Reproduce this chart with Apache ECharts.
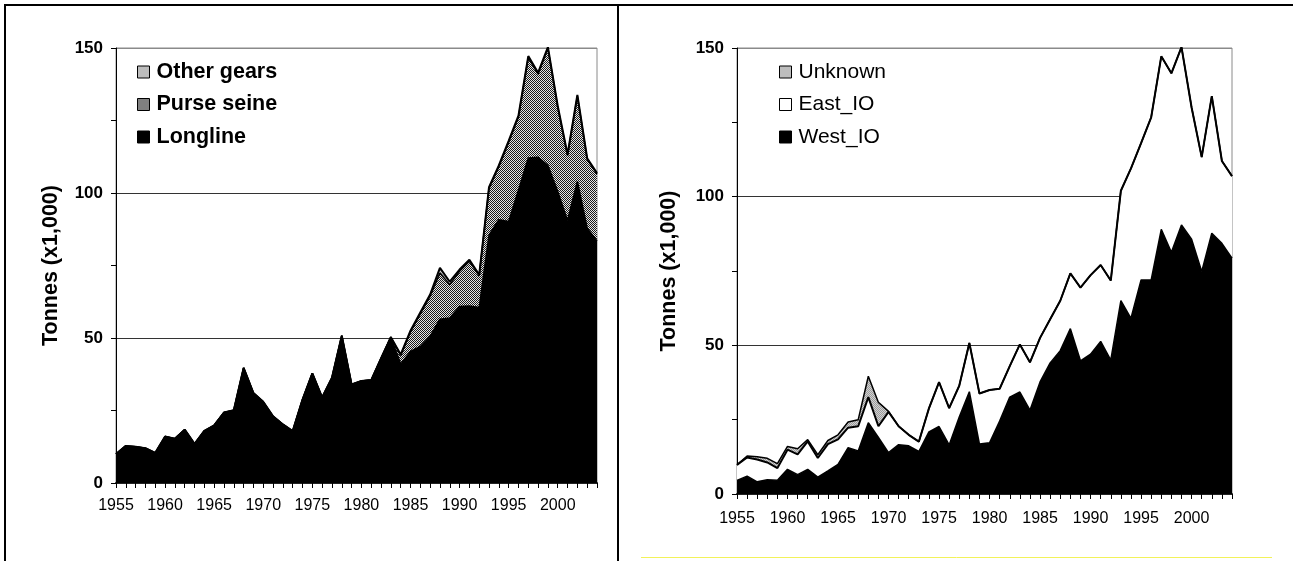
<!DOCTYPE html>
<html>
<head>
<meta charset="utf-8">
<script src="https://cdn.jsdelivr.net/npm/echarts@6/dist/echarts.min.js"></script>
<style>
  html, body { margin: 0; padding: 0; background: #ffffff; }
  #chart { width: 1293px; height: 561px; }
</style>
</head>
<body>
<div id="chart"></div>
<script>
// Catch by year, thousands of tonnes
const years = ['1955','1956','1957','1958','1959','1960','1961','1962','1963','1964',
               '1965','1966','1967','1968','1969','1970','1971','1972','1973','1974',
               '1975','1976','1977','1978','1979','1980','1981','1982','1983','1984',
               '1985','1986','1987','1988','1989','1990','1991','1992','1993','1994',
               '1995','1996','1997','1998','1999','2000','2001','2002','2003','2004'];

// Catch by gear
const longline = [10.0, 12.8, 12.5, 12.0, 10.4, 16.0, 15.3, 18.4, 13.5, 18.0,
                  19.9, 24.3, 25.1, 39.7, 31.0, 28.0, 23.0, 20.2, 17.9, 28.8,
                  37.8, 29.5, 36.3, 50.8, 34.0, 35.2, 35.5, 43.0, 50.3, 41.0,
                  45.4, 47.1, 50.6, 56.5, 56.9, 60.9, 61.0, 60.5, 85.5, 90.8,
                  90.2, 101.0, 112.1, 112.3, 109.5, 100.5, 90.5, 104.0, 87.9, 83.5];
const purseSeine = [0, 0, 0, 0, 0, 0, 0, 0, 0, 0,
                    0, 0, 0, 0, 0, 0, 0, 0, 0, 0,
                    0, 0, 0, 0, 0, 0, 0, 0, 0, 3.0,
                    6.7, 11.2, 13.8, 15.9, 11.5, 12.1, 15.5, 10.9, 16.1, 18.3,
                    27.3, 25.2, 34.6, 28.7, 40.4, 29.1, 22.4, 29.4, 23.7, 23.0];
const otherGears = [0, 0, 0, 0, 0, 0, 0, 0, 0, 0,
                    0, 0, 0, 0, 0, 0, 0, 0, 0, 0,
                    0, 0, 0, 0, 0, 0, 0, 0, 0, 0.3,
                    0.4, 0.5, 0.6, 1.8, 1.0, 0.6, 0.5, 0.4, 0.4, 0.4,
                    0.5, 0.5, 0.5, 0.5, 0.4, 0.4, 0.4, 0.4, 0.4, 0.4];

// Catch by area
const westIO = [4.6, 6.0, 4.1, 4.8, 4.6, 8.3, 6.5, 8.3, 5.7, 7.8,
                10.0, 15.6, 14.5, 24.0, 19.0, 13.9, 16.6, 16.2, 14.3, 20.9,
                22.7, 16.5, 25.9, 34.4, 16.8, 17.2, 24.5, 32.6, 34.3, 28.2,
                37.7, 44.1, 48.2, 55.6, 44.8, 47.0, 51.3, 45.0, 65.0, 59.1,
                72.0, 72.0, 89.0, 81.3, 90.5, 85.7, 74.8, 87.7, 84.3, 79.3];
const eastIO = [5.2, 6.3, 7.5, 5.8, 4.1, 6.6, 6.8, 9.4, 6.4, 9.0,
                8.4, 6.7, 8.3, 8.6, 3.8, 13.7, 6.2, 3.7, 3.3, 7.9,
                14.9, 12.4, 10.5, 16.4, 17.0, 17.8, 10.9, 10.4, 16.0, 16.1,
                14.8, 14.7, 16.8, 18.6, 24.6, 26.6, 25.7, 26.8, 37.0, 50.4,
                46.0, 54.7, 58.2, 60.2, 59.8, 44.3, 38.5, 46.1, 27.7, 27.6];
const unknownArea = [0, 0.5, 0.9, 1.4, 1.5, 1.1, 1.9, 0.6, 1.1, 1.2,
                     1.5, 1.9, 2.2, 7.0, 8.0, 0.2, 0, 0, 0, 0,
                     0, 0, 0, 0, 0, 0, 0, 0, 0, 0,
                     0, 0, 0, 0, 0, 0, 0, 0, 0, 0,
                     0, 0, 0, 0, 0, 0, 0, 0, 0, 0];

// Value axis: ticks every 25, labels every 50
const yLabelValues = [0, 50, 100, 150];

const FONT = 'Liberation Sans, Arial, sans-serif';

// Fine two-tone checker used for the textured fills
function checker(dark, light) {
  const c = document.createElement('canvas');
  c.width = 2; c.height = 2;
  const g = c.getContext('2d');
  g.fillStyle = light; g.fillRect(0, 0, 2, 2);
  g.fillStyle = dark; g.fillRect(0, 0, 1, 1); g.fillRect(1, 1, 1, 1);
  return c;
}
const seinePattern = { image: checker('#1a1a1a', '#e6e6e6'), repeat: 'repeat' };
const greyPattern = { image: checker('#9a9a9a', '#d2d2d2'), repeat: 'repeat' };

function xAxisFor(gridIndex, margin) {
  return {
    type: 'category', gridIndex: gridIndex, data: years, boundaryGap: false,
    axisLine: { lineStyle: { color: '#222', width: 2 } },
    axisTick: { show: true, interval: 0, length: 5, lineStyle: { color: '#000', width: 1 } },
    axisLabel: { interval: 4, color: '#000', fontSize: 16, fontFamily: FONT, margin: margin },
    splitLine: { show: false }
  };
}
function yAxisFor(gridIndex, nameGap) {
  return {
    type: 'value', gridIndex: gridIndex, min: 0, max: 150, interval: 50,
    name: 'Tonnes (x1,000)', nameLocation: 'middle', nameGap: nameGap,
    nameTextStyle: { color: '#000', fontSize: 21.5, fontWeight: 'bold', fontFamily: FONT },
    axisLine: { show: true, lineStyle: { color: '#000', width: 1 } },
    axisTick: { show: true, length: 5, lineStyle: { color: '#000', width: 1 } },
    minorTick: { show: true, splitNumber: 2, length: 5, lineStyle: { color: '#000', width: 1 } },
    axisLabel: {
      color: '#000', fontSize: 17, fontWeight: 'bold', fontFamily: FONT, margin: 13,
      formatter: function (v) { return yLabelValues.indexOf(v) >= 0 ? String(v) : ''; }
    },
    splitLine: { show: true, lineStyle: { color: ['#000', '#333', '#333', '#8a8a8a'], width: 1 } }
  };
}
function areaSeries(name, data, gridIdx, stack, fill, legendFill, lineWidth) {
  return {
    name: name, type: 'line', data: data, stack: stack,
    xAxisIndex: gridIdx, yAxisIndex: gridIdx,
    symbol: 'none', smooth: false,
    itemStyle: { color: legendFill },
    lineStyle: { color: '#000', width: lineWidth },
    areaStyle: { color: fill, opacity: 1 }
  };
}

const chart = echarts.init(document.getElementById('chart'), null, { renderer: 'canvas' });
chart.setOption({
  animation: false,
  backgroundColor: '#ffffff',
  grid: [
    { left: 116, top: 48, width: 481, height: 435, show: true, borderColor: '#8a8a8a', borderWidth: 1, containLabel: false },
    { left: 737, top: 48, width: 495, height: 446, show: true, borderColor: '#8a8a8a', borderWidth: 1, containLabel: false }
  ],
  xAxis: [xAxisFor(0, 15), xAxisFor(1, 17)],
  yAxis: [yAxisFor(0, 54), yAxisFor(1, 57)],
  legend: [
    {
      data: ['Other gears', 'Purse seine', 'Longline'],
      orient: 'vertical', left: 137, top: 61, padding: 0,
      icon: 'rect', itemWidth: 12, itemHeight: 12, itemGap: 10.5,
      itemStyle: { borderColor: '#000', borderWidth: 1 },
      textStyle: { color: '#000', fontSize: 21.5, fontWeight: 'bold', fontFamily: FONT, lineHeight: 22, padding: [0, 0, 0, 2] }
    },
    {
      data: ['Unknown', 'East_IO', 'West_IO'],
      orient: 'vertical', left: 779, top: 61, padding: 0,
      icon: 'rect', itemWidth: 12, itemHeight: 12, itemGap: 10.5,
      itemStyle: { borderColor: '#000', borderWidth: 1 },
      textStyle: { color: '#000', fontSize: 21, fontFamily: FONT, lineHeight: 22, padding: [0, 0, 0, 2] }
    }
  ],
  series: [
    areaSeries('Longline', longline, 0, 'gear', '#000000', '#000000', 1.5),
    areaSeries('Purse seine', purseSeine, 0, 'gear', seinePattern, seinePattern, 1.5),
    areaSeries('Other gears', otherGears, 0, 'gear', greyPattern, '#bdbdbd', 2),
    areaSeries('West_IO', westIO, 1, 'area', '#000000', '#000000', 1.5),
    areaSeries('East_IO', eastIO, 1, 'area', '#ffffff', '#ffffff', 2),
    areaSeries('Unknown', unknownArea, 1, 'area', greyPattern, '#bdbdbd', 1.5)
  ],
  graphic: [
    { type: 'line', shape: { x1: 4, y1: 5, x2: 1293, y2: 5 }, style: { stroke: '#000', lineWidth: 2 }, z: 100 },
    { type: 'line', shape: { x1: 5, y1: 4, x2: 5, y2: 561 }, style: { stroke: '#000', lineWidth: 2 }, z: 100 },
    { type: 'line', shape: { x1: 618, y1: 4, x2: 618, y2: 561 }, style: { stroke: '#000', lineWidth: 2 }, z: 100 },
    { type: 'line', shape: { x1: 641, y1: 557.5, x2: 1272, y2: 557.5 }, style: { stroke: '#f2f25a', lineWidth: 1 }, z: 100 }
  ]
});
</script>
</body>
</html>
